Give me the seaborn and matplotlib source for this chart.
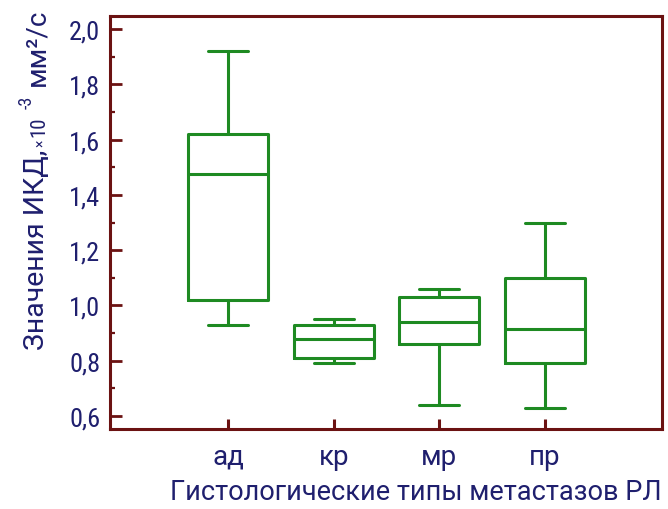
import pandas as pd
import numpy as np
import matplotlib
matplotlib.use("Agg")
import matplotlib.pyplot as plt
from matplotlib import font_manager
from matplotlib.ticker import FixedLocator, MultipleLocator
import seaborn as sns

sns.set_theme(style="white")

# -------------------------------------------------
# Data (five-number summaries)
# -------------------------------------------------
categories = ["ад", "кр", "мр", "пр"]
# each group: whisker low, Q1, median, Q3, whisker high
ad_values = [0.93, 1.02, 1.475, 1.62, 1.92]
kr_values = [0.79, 0.81, 0.88, 0.93, 0.95]
mr_values = [0.64, 0.86, 0.94, 1.03, 1.06]
pr_values = [0.63, 0.79, 0.915, 1.10, 1.30]

y_ticks = [0.6, 0.8, 1.0, 1.2, 1.4, 1.6, 1.8, 2.0]
y_tick_labels = ["0,6", "0,8", "1,0", "1,2", "1,4", "1,6", "1,8", "2,0"]

x_title = "Гистологические типы метастазов РЛ"
# y title pieces: (text, size, baseline shift in px, gap after in px, narrow font)
y_title_parts = [
    ("Значения ИКД,", 20.5, 0, 3, False),
    ("×", 10, 0, 2, False),
    ("10", 15, 0, 8, True),
    ("-3", 13, -12, 10, True),
    ("мм²/с", 20, 0, 0, False),
]

df = pd.DataFrame({
    "type": np.repeat(categories, 5),
    "ikd": ad_values + kr_values + mr_values + pr_values,
})

# -------------------------------------------------
# Colours / fonts
# -------------------------------------------------
GREEN = "#1e8a22"
FRAME = "#6b1212"
NAVY = "#1f1f6e"

available = {f.name for f in font_manager.fontManager.ttflist}
narrow = "DejaVu Sans"
for cand in ["Roboto Condensed", "Liberation Sans Narrow", "Open Sans Condensed"]:
    if cand in available:
        narrow = cand
        break
plt.rcParams["font.family"] = ["Roboto", "DejaVu Sans"]

# -------------------------------------------------
# Plot
# -------------------------------------------------
fig = plt.figure(figsize=(6.68, 5.10), dpi=100)
ax = fig.add_axes([0.1647, 0.157, 0.8263, 0.810])

sns.boxplot(
    data=df,
    x="type",
    y="ikd",
    order=categories,
    whis=(0, 100),
    width=0.76,
    fill=False,
    color=GREEN,
    linecolor=GREEN,
    linewidth=2.2,
    showfliers=False,
    ax=ax,
)

ax.set_xlim(-1.12, 4.11)
ax.set_ylim(0.553, 2.048)

for side in ["left", "right", "top", "bottom"]:
    ax.spines[side].set_visible(True)
    ax.spines[side].set_color(FRAME)
    ax.spines[side].set_linewidth(2.2)

ax.yaxis.set_major_locator(FixedLocator(y_ticks))
ax.set_yticklabels(y_tick_labels, family=narrow, stretch="condensed",
                   fontsize=19, color=NAVY)
ax.yaxis.set_minor_locator(MultipleLocator(0.1))
ax.tick_params(axis="y", which="major", direction="in", length=8.5, width=2,
               color=FRAME, left=True, right=False, pad=7)
ax.tick_params(axis="y", which="minor", direction="in", length=3.6, width=1.6,
               color=FRAME, left=True, right=False)
ax.tick_params(axis="x", direction="in", length=7.5, width=2.2, color=FRAME,
               bottom=True, top=False, labelsize=20, labelcolor=NAVY, pad=10)

ax.set_xlabel(x_title, fontsize=19.5, color=NAVY, loc="right", labelpad=6)
ax.set_ylabel("")
ax.grid(False)

# y title built from pieces so the "× 10 -3" part can be smaller
renderer = fig.canvas.get_renderer()
base_x = 44.0      # baseline position, px from left
cur_y = 510 - 350  # start, px from bottom
for text, size, shift, gap, use_narrow in y_title_parts:
    t = fig.text((base_x + shift) / 668, cur_y / 510, text, rotation=90,
                 rotation_mode="anchor", ha="left", va="baseline",
                 fontsize=size, color=NAVY,
                 family=narrow if use_narrow else ["Roboto", "DejaVu Sans"])
    bb = t.get_window_extent(renderer)
    cur_y = bb.y1 + gap

fig.savefig("out.png", dpi=100)
